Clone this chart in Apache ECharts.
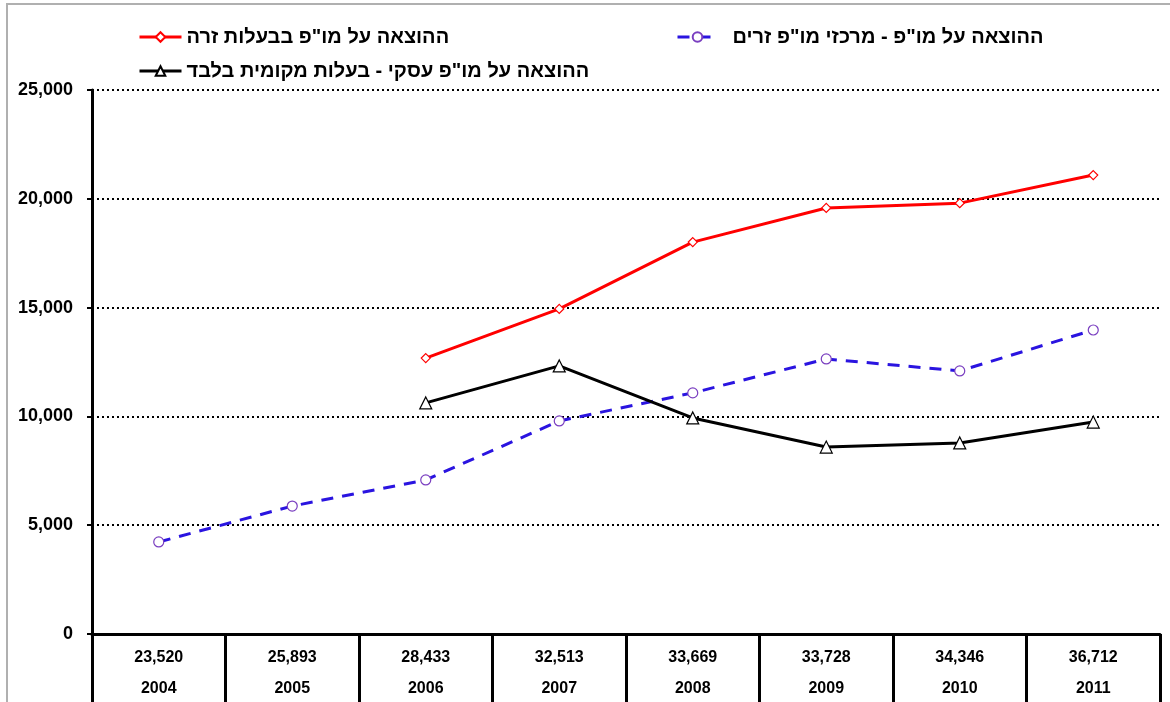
<!DOCTYPE html>
<html>
<head>
<meta charset="utf-8">
<script src="https://cdn.jsdelivr.net/npm/echarts@6/dist/echarts.min.js"></script>
<style>
  html, body { margin: 0; padding: 0; background: #fff; }
  #container { width: 1170px; height: 702px; }
</style>
</head>
<body>
<div id="container"></div>
<script>
var years = ['2004', '2005', '2006', '2007', '2008', '2009', '2010', '2011'];
var gdpRow = ['23,520', '25,893', '28,433', '32,513', '33,669', '33,728', '34,346', '36,712'];

var nameForeign = 'ההוצאה על מו"פ בבעלות זרה';
var nameCenters = 'ההוצאה על מו"פ - מרכזי מו"פ זרים';
var nameLocal = 'ההוצאה על מו"פ עסקי - בעלות מקומית בלבד';

var foreignOwned = [null, null, 12680, 14940, 18010, 19580, 19800, 21090];
var foreignCenters = [4230, 5880, 7080, 9790, 11080, 12640, 12090, 13970];
var localOnly = [null, null, 10620, 12320, 9930, 8590, 8780, 9740];

var yTicks = [0, 5000, 10000, 15000, 20000, 25000];

var font = "'Liberation Sans', Arial, sans-serif";
var dom = document.getElementById('container');
var myChart = echarts.init(dom);

var legendBase = {
    orient: 'horizontal',
    itemWidth: 42,
    itemHeight: 12,
    lineStyle: { width: 3 },
    textStyle: { fontFamily: font, fontWeight: 'bold', fontSize: 20, color: '#000' },
    selectedMode: false
};

var option = {
    animation: false,
    backgroundColor: '#fff',
    legend: [
        Object.assign({}, legendBase, { left: 133, top: 22, data: [nameForeign] }),
        Object.assign({}, legendBase, { left: 671, top: 22, itemWidth: 40, data: [nameCenters],
            textStyle: Object.assign({}, legendBase.textStyle, { padding: [0, 0, 0, 10] }) }),
        Object.assign({}, legendBase, { left: 133, top: 56, data: [nameLocal] })
    ],
    grid: { left: 92, right: 10, top: 90, bottom: 68, containLabel: false },
    graphic: [
        { type: 'line', shape: { x1: 6, y1: 4, x2: 1170, y2: 4 }, style: { stroke: '#b0b0b0', lineWidth: 2 } },
        { type: 'line', shape: { x1: 7, y1: 4, x2: 7, y2: 702 }, style: { stroke: '#b0b0b0', lineWidth: 2 } }
    ],
    xAxis: {
        type: 'category',
        data: years,
        boundaryGap: true,
        axisLine: { lineStyle: { color: '#000', width: 3 } },
        axisTick: { show: true, length: 70, lineStyle: { color: '#000', width: 3 } },
        axisLabel: {
            margin: 8,
            formatter: function (val, idx) {
                return '{v|' + gdpRow[idx] + '}\n{y|' + val + '}';
            },
            rich: {
                v: { fontFamily: font, fontWeight: 'bold', fontSize: 16, color: '#000', lineHeight: 31 },
                y: { fontFamily: font, fontWeight: 'bold', fontSize: 16, color: '#000', lineHeight: 31 }
            }
        }
    },
    yAxis: {
        type: 'value',
        min: yTicks[0],
        max: yTicks[yTicks.length - 1],
        interval: 5000,
        axisLine: { show: true, lineStyle: { color: '#000', width: 3 } },
        axisTick: { show: true, length: 5, lineStyle: { color: '#000', width: 2 } },
        axisLabel: {
            margin: 19,
            fontFamily: font, fontWeight: 'bold', fontSize: 18, color: '#000',
            formatter: function (v) { return v.toLocaleString('en-US'); }
        },
        splitLine: { show: true, lineStyle: { color: '#000', width: 2, type: [2, 3] } }
    },
    series: [
        {
            name: nameForeign,
            type: 'line',
            data: foreignOwned,
            connectNulls: false,
            symbol: 'diamond',
            symbolSize: 9,
            lineStyle: { color: '#ff0000', width: 3 },
            itemStyle: { color: '#fff', borderColor: '#ff0000', borderWidth: 1.2 },
            z: 3
        },
        {
            name: nameCenters,
            type: 'line',
            data: foreignCenters,
            symbol: 'circle',
            symbolSize: 10,
            lineStyle: { color: '#2a14e0', width: 3, type: [12, 9] },
            itemStyle: { color: '#fff', borderColor: '#7a3fc0', borderWidth: 1.2 },
            z: 2
        },
        {
            name: nameLocal,
            type: 'line',
            data: localOnly,
            symbol: 'triangle',
            symbolSize: 12,
            lineStyle: { color: '#000', width: 3 },
            itemStyle: { color: '#fff', borderColor: '#000', borderWidth: 1.2 },
            z: 4
        }
    ]
};

myChart.setOption(option, true);
</script>
</body>
</html>
